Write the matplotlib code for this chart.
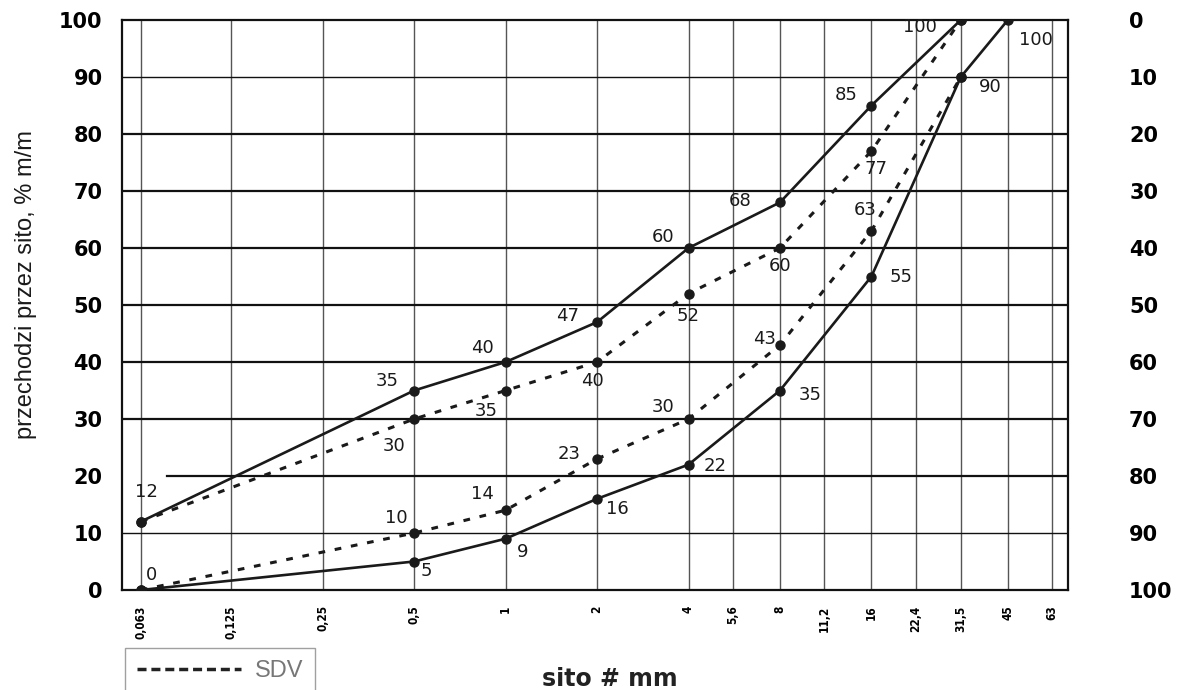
import matplotlib
matplotlib.use("Agg")
import matplotlib.pyplot as plt
from matplotlib.lines import Line2D
from matplotlib import font_manager as fm

# ---- data ----
sieves = [0.063, 0.125, 0.25, 0.5, 1, 2, 4, 5.6, 8, 11.2, 16, 22.4, 31.5, 45, 63]
sieve_labels = ['0,063', '0,125', '0,25', '0,5', '1', '2', '4', '5,6', '8',
                '11,2', '16', '22,4', '31,5', '45', '63']

upper_x = [0.063, 0.5, 1, 2, 4, 8, 16, 31.5]
upper_y = [12, 35, 40, 47, 60, 68, 85, 100]

lower_x = [0.063, 0.5, 1, 2, 4, 8, 16, 31.5, 45]
lower_y = [0, 5, 9, 16, 22, 35, 55, 90, 100]

sdv_up_x = [0.063, 0.5, 1, 2, 4, 8, 16, 31.5]
sdv_up_y = [12, 30, 35, 40, 52, 60, 77, 100]

sdv_lo_x = [0.063, 0.5, 1, 2, 4, 8, 16, 31.5]
sdv_lo_y = [0, 10, 14, 23, 30, 43, 63, 90]

left_ticks = [0, 10, 20, 30, 40, 50, 60, 70, 80, 90, 100]
right_ticks = [0, 10, 20, 30, 40, 50, 60, 70, 80, 90, 100]

# label offsets (pixels, dx right, dy up) - style only
upper_off = [(6, 30), (-27, 9), (-23, 14), (-30, 6), (-25, 11), (-40, 1), (-25, 11), (-41, -7)]
lower_off = [(11, 15), (12, -10), (17, -13), (20, -10), (27, -1), (30, -4), (30, 0), (29, -10), (28, -20)]
sdv_up_off = [None, (-20, -27), (-19, -20), (-5, -19), (0, -22), (0, -18), (5, -18), None]
sdv_lo_off = [None, (-18, 15), (-23, 16), (-28, 5), (-25, 12), (-15, 6), (-6, 21), None]

# narrow font for the sieve labels, if available
names = {f.name for f in fm.fontManager.ttflist}
if 'Liberation Sans Narrow' in names:
    tick_font = dict(family='Liberation Sans Narrow', fontsize=11)
else:
    tick_font = dict(family='DejaVu Sans', fontstretch='condensed', fontsize=8.5)

W, H = 1187, 690
fig = plt.figure(figsize=(W / 100, H / 100), dpi=100)
ax = fig.add_axes([122 / W, 1 - 590 / H, (1068 - 122) / W, (590 - 20) / H])

ax.set_xscale('log', base=2)
ax.set_xlim(0.0546, 71)
ax.set_ylim(0, 100)

# grid
for s in sieves:
    ax.axvline(s, color='#555555', lw=1.0, zorder=1)
for v in left_ticks[1:-1]:
    lw = 1.0 if v in (10, 90) else 1.6
    xmin = (167 - 122) / (1068 - 122) if v == 20 else 0
    ax.axhline(v, xmin=xmin, color='#111111', lw=lw, zorder=1)

line_kw = dict(color='#1a1a1a', marker='o', markersize=6.5, zorder=3)
ax.plot(upper_x, upper_y, lw=1.9, **line_kw)
ax.plot(lower_x, lower_y, lw=1.9, **line_kw)
ax.plot(sdv_up_x, sdv_up_y, lw=2.2, dashes=(2.2, 3.2), **line_kw)
ax.plot(sdv_lo_x, sdv_lo_y, lw=2.2, dashes=(2.2, 3.2), **line_kw)

lab_kw = dict(textcoords='offset pixels', ha='center', va='center',
              fontsize=13, family='DejaVu Sans', color='#1a1a1a', zorder=4)
for xs, ys, offs in [(upper_x, upper_y, upper_off), (lower_x, lower_y, lower_off),
                     (sdv_up_x, sdv_up_y, sdv_up_off), (sdv_lo_x, sdv_lo_y, sdv_lo_off)]:
    for x, y, o in zip(xs, ys, offs):
        if o is None:
            continue
        ax.annotate(str(y), (x, y), xytext=o, **lab_kw)

ax.set_xticks(sieves)
ax.set_xticklabels(sieve_labels, rotation=90, fontweight='bold', va='top', **tick_font)
ax.xaxis.set_minor_locator(matplotlib.ticker.NullLocator())
ax.tick_params(axis='x', length=0, pad=11)
ax.set_yticks(left_ticks)
ax.set_yticklabels([str(t) for t in left_ticks], fontsize=15, fontweight='bold')
ax.tick_params(axis='y', length=0, pad=14)
for sp in ax.spines.values():
    sp.set_linewidth(1.6)
    sp.set_color('#111111')

ax2 = ax.twinx()
ax2.set_ylim(100, 0)
ax2.set_yticks(right_ticks)
ax2.set_yticklabels([str(t) for t in right_ticks], fontsize=15, fontweight='bold')
ax2.tick_params(axis='y', length=0, pad=44)
for lbl in ax2.get_yticklabels():
    lbl.set_horizontalalignment('left')
for sp in ax2.spines.values():
    sp.set_visible(False)

ax.set_ylabel('przechodzi przez sito, % m/m', fontsize=17, family='Liberation Sans',
              color='#1a1a1a', va='center')
ax.yaxis.set_label_coords(-(122 - 26) / (1068 - 122), (590 - 285) / 570)

fig.text(610 / W, 1 - 686 / H, 'sito # mm', ha='center', va='baseline',
         fontsize=17, fontweight='bold', family='DejaVu Sans', color='#222222')

h = Line2D([], [], color='#222222', lw=2.5, dashes=(2.6, 1.4))
leg = fig.legend([h], ['SDV'], loc='upper left', bbox_to_anchor=(125 / W, 1 - 648 / H),
                 frameon=True, fancybox=False, handlelength=4.4,
                 prop=dict(family='Liberation Sans', size=17),
                 borderpad=0.5, handletextpad=0.6, borderaxespad=0)
leg.get_frame().set_edgecolor('#888888')
leg.get_frame().set_linewidth(1.0)
for t in leg.get_texts():
    t.set_color('#777777')

fig.savefig('out.png', dpi=100)
